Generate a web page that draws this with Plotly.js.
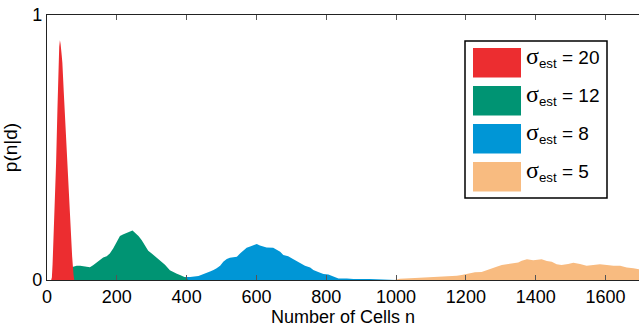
<!DOCTYPE html>
<html>
<head>
<meta charset="utf-8">
<script src="https://cdn.plot.ly/plotly-3.0.1.min.js"></script>
<style>html,body{margin:0;padding:0;background:#fff;}#chart{width:639px;height:327px;}</style>
</head>
<body>
<div id="chart"></div>
<script>
// Series (n = number of cells, p = p(n|d))
const redN = [12,14,16,20,24,26,30,33,35,37,39,42,44,48,52,56,60,64,68,72,76,78];
const redP = [0,0.01,0.06,0.2,0.36,0.44,0.65,0.82,0.88,0.905,0.89,0.85,0.82,0.71,0.6,0.49,0.39,0.28,0.17,0.09,0.02,0];

const greenN = [62,66,75,85,95,105,115,123,133,142,152,161,171,180,190,200,209,219,228,238,245,252,262,271,281,290,300,309,319,328,338,352,362,372,381,390,400,405];
const greenP = [0,0.04,0.05,0.054,0.054,0.052,0.05,0.048,0.057,0.065,0.075,0.085,0.09,0.10,0.12,0.145,0.166,0.173,0.179,0.183,0.187,0.179,0.166,0.151,0.132,0.11,0.10,0.09,0.082,0.069,0.058,0.037,0.029,0.024,0.019,0.015,0.008,0];

const blueN = [360,370,390,410,434,443,457,467,477,486,496,505,515,524,534,544,553,563,572,582,591,601,610,620,629,648,658,668,677,691,706,720,730,739,754,763,777,792,806,820,835,859,878,925,965,1000];
const blueP = [0,0.01,0.011,0.011,0.015,0.019,0.025,0.032,0.038,0.044,0.054,0.069,0.079,0.084,0.086,0.088,0.10,0.11,0.122,0.126,0.132,0.136,0.13,0.126,0.123,0.122,0.113,0.107,0.094,0.09,0.078,0.067,0.059,0.054,0.047,0.038,0.030,0.023,0.021,0.015,0.006,0.006,0.004,0.004,0.002,0];

const orangeN = [995,1011,1054,1107,1159,1174,1188,1207,1226,1245,1260,1274,1288,1303,1322,1336,1350,1360,1375,1393,1417,1432,1446,1460,1474,1493,1508,1527,1546,1565,1584,1604,1623,1642,1661,1680,1696];
const orangeP = [0,0.005,0.008,0.011,0.014,0.016,0.019,0.023,0.029,0.030,0.038,0.044,0.050,0.057,0.060,0.063,0.066,0.073,0.078,0.075,0.078,0.072,0.069,0.059,0.057,0.060,0.065,0.060,0.054,0.057,0.059,0.057,0.054,0.054,0.047,0.044,0.041];

const legendLabels = ['20','12','8','5'];
const xTicks = [0,200,400,600,800,1000,1200,1400,1600];

const colors = {red:'rgb(236,45,48)', green:'rgb(0,148,115)', blue:'rgb(0,150,214)', orange:'rgb(248,187,128)'};
const legendColors = [colors.red, colors.green, colors.blue, colors.orange];

function area(x, y, c){
  return {x:x, y:y, type:'scatter', mode:'lines', fill:'tozeroy', fillcolor:c,
          line:{width:0, color:c, shape:'linear'}, hoverinfo:'skip', showlegend:false};
}

const data = [
  area(orangeN, orangeP, colors.orange),
  area(blueN, blueP, colors.blue),
  area(greenN, greenP, colors.green),
  area(redN, redP, colors.red)
];

// Manual legend in paper coordinates
const pw = 592, ph = 265; // plot area size in px
const px2x = p => (p - 47) / pw;
const px2y = p => (280 - p) / ph;
const shapes = [{type:'rect', xref:'paper', yref:'paper', x0:px2x(465), x1:px2x(607), y0:px2y(198), y1:px2y(41),
                 line:{color:'#000', width:1.5}, fillcolor:'#fff', layer:'above'}];
const annotations = [];
legendLabels.forEach((lab, i) => {
  const top = 48 + i*38;
  shapes.push({type:'rect', xref:'paper', yref:'paper', x0:px2x(473), x1:px2x(521), y0:px2y(top+29.5), y1:px2y(top),
               line:{width:0}, fillcolor:legendColors[i], layer:'above'});
  annotations.push({xref:'paper', yref:'paper', x:px2x(524), y:px2y(top+9), xanchor:'left', yanchor:'middle',
    showarrow:false, align:'left',
    text:'<span style="font-family:Liberation Serif;font-size:24px">σ</span><sub>est</sub> = ' + lab,
    font:{family:'Liberation Sans', size:19, color:'#000'}});
});

const layout = {
  width:639, height:327,
  margin:{l:47, r:0, t:15, b:47},
  paper_bgcolor:'#fff', plot_bgcolor:'#fff',
  font:{family:'Liberation Sans', size:18, color:'#000'},
  showlegend:false,
  xaxis:{range:[0,1696], tickvals:xTicks, ticktext:xTicks.map(String), ticks:'inside', ticklen:5, tickcolor:'#555',
         showline:true, linecolor:'#222', linewidth:1.2, mirror:'ticks', showgrid:false, zeroline:false,
         title:{text:'Number of Cells n', font:{size:18}, standoff:2}, tickfont:{size:18}},
  yaxis:{range:[0,1], tickvals:[0,1], ticktext:['0','1'], ticks:'inside', ticklen:5, tickcolor:'#555',
         showline:true, linecolor:'#222', linewidth:1.2, mirror:false, showgrid:false, zeroline:false,
         title:{text:'p(n|d)', font:{size:19}, standoff:10}, tickfont:{size:18}},
  shapes:shapes, annotations:annotations
};

Plotly.newPlot('chart', data, layout, {displayModeBar:false, staticPlot:true});
</script>
</body>
</html>
